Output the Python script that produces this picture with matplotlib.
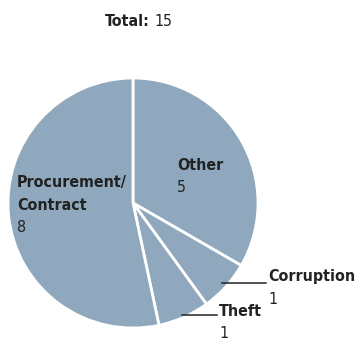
import matplotlib.pyplot as plt

categories = ['Other', 'Corruption', 'Theft', 'Procurement/\nContract']
counts = [5, 1, 1, 8]
total = sum(counts)

W, H = 354, 342
fig = plt.figure(figsize=(W / 100, H / 100), dpi=100)
ax = fig.add_axes([0, 0, 1, 1])

fam = ['Liberation Sans Narrow', 'DejaVu Sans']
col = '#8fa8bd'
txt = '#222222'
fs = 11.4
tkw = dict(family=fam, fontstretch='condensed', fontsize=fs, color=txt)

# pie, starting at 12 o'clock, clockwise
ax.pie(counts, colors=[col] * len(counts), startangle=90, counterclock=False,
       center=(133, H - 203), radius=125, frame=True,
       wedgeprops=dict(edgecolor='white', linewidth=2))
ax.set_xlim(0, W)
ax.set_ylim(0, H)
ax.set_aspect('equal')
ax.axis('off')

# title
ax.text(150, H - 21, 'Total:', fontweight='bold', ha='right', va='center', **tkw)
ax.text(154, H - 21, str(total), ha='left', va='center', **tkw)

# first-line position of each label; lines are 23 px apart
label_pos = [(177, 165), (268, 277), (219, 311), (17, 182)]
for name, n, (x, y) in zip(categories, counts, label_pos):
    lines = name.split('\n')
    for i, line in enumerate(lines):
        ax.text(x, H - (y + 23 * i), line, fontweight='bold', ha='left',
                va='center', **tkw)
    ax.text(x, H - (y + 23 * len(lines)), str(n), ha='left', va='center', **tkw)

# leader lines for the small slices
ax.plot([222, 266], [H - 283, H - 283], color='#222222', lw=1.1)
ax.plot([182, 217], [H - 315, H - 315], color='#222222', lw=1.1)

fig.savefig('out.png', dpi=100, facecolor='white')
